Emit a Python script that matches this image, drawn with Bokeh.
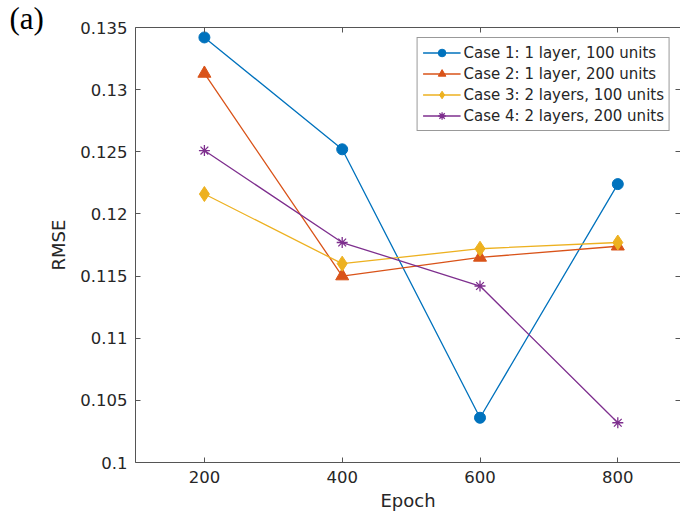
from bokeh.plotting import figure
from bokeh.models import Range1d, FixedTicker, LinearAxis, Label, Legend
from bokeh.embed import file_html
from bokeh.resources import INLINE

epochs = [200, 400, 600, 800]
case1 = [0.1342, 0.1252, 0.1036, 0.1224]
case2 = [0.1313, 0.1150, 0.1165, 0.1174]
case3 = [0.1216, 0.1160, 0.1172, 0.1177]
case4 = [0.1251, 0.1177, 0.1142, 0.1032]
labels = ["Case 1: 1 layer, 100 units", "Case 2: 1 layer, 200 units",
          "Case 3: 2 layers, 100 units", "Case 4: 2 layers, 200 units"]
colors = ["#0072BD", "#D95319", "#EDB120", "#7E2F8E"]
markers = ["circle", "triangle", "diamond", "asterisk"]
msizes = [11, 13, 15, 11]
x_ticks = [200, 400, 600, 800]
y_ticks = [0.1, 0.105, 0.11, 0.115, 0.12, 0.125, 0.13, 0.135]
y_tick_labels = ["0.1", "0.105", "0.11", "0.115", "0.12", "0.125", "0.13", "0.135"]

FONT = "DejaVu Sans"
AX = "#555555"
TXT = "#262626"

p = figure(width=680, height=517, output_backend="svg", toolbar_location=None,
           x_range=Range1d(100, 891), y_range=Range1d(0.1, 0.135),
           min_border_left=135, min_border_right=0, min_border_top=27,
           min_border_bottom=55, x_axis_label="Epoch", y_axis_label="RMSE")
p.outline_line_color = None
p.grid.visible = False
p.background_fill_color = "white"
p.border_fill_color = "white"

for ax in [p.xaxis[0], p.yaxis[0]]:
    ax.major_tick_in = 5
    ax.major_tick_out = 0
    ax.minor_tick_line_color = None
    ax.axis_line_color = AX
    ax.major_tick_line_color = AX
    ax.major_label_text_font = FONT
    ax.major_label_text_font_size = "16.5px"
    ax.major_label_text_color = TXT
    ax.axis_label_text_font = FONT
    ax.axis_label_text_font_size = "18px"
    ax.axis_label_text_font_style = "normal"
    ax.axis_label_text_color = TXT

p.xaxis[0].ticker = FixedTicker(ticks=x_ticks)
p.yaxis[0].ticker = FixedTicker(ticks=y_ticks)
p.yaxis[0].major_label_overrides = {t: l for t, l in zip(y_ticks, y_tick_labels)}
p.xaxis[0].major_label_standoff = 8
p.xaxis[0].axis_label_standoff = 4
p.yaxis[0].major_label_standoff = 8
p.yaxis[0].axis_label_standoff = 8

top = LinearAxis(ticker=FixedTicker(ticks=x_ticks), major_tick_in=5, major_tick_out=0,
                 minor_tick_line_color=None, axis_line_color=AX, major_tick_line_color=AX,
                 major_label_overrides={t: "" for t in x_ticks}, major_label_standoff=0)
p.add_layout(top, "above")
right = LinearAxis(ticker=FixedTicker(ticks=y_ticks), major_tick_in=5, major_tick_out=0,
                   minor_tick_line_color=None, axis_line_color=None, major_tick_line_color=AX,
                   major_label_overrides={t: "" for t in y_ticks}, major_label_standoff=0)
p.add_layout(right, "right")

items = []
for ys, lab, c, m, s in zip([case1, case2, case3, case4], labels, colors, markers, msizes):
    r1 = p.line(epochs, ys, line_color=c, line_width=1.3)
    if m == "asterisk":
        r2 = p.scatter(epochs, ys, marker=m, size=s, line_color=c, line_width=1.3)
    else:
        r2 = p.scatter(epochs, ys, marker=m, size=s, fill_color=c, line_color=c)
    items.append((lab, [r1, r2]))

legend = Legend(items=items, location="top_right", margin=10, padding=5, spacing=2,
                glyph_width=38, glyph_height=19, label_standoff=3,
                label_text_font=FONT, label_text_font_size="15px", label_text_color=TXT,
                border_line_color="#333333", border_line_width=1,
                background_fill_color="white", background_fill_alpha=1.0)
p.add_layout(legend, "center")

p.add_layout(Label(x=-2, y=427, x_units="screen", y_units="screen", text="(a)",
                   text_font="Liberation Serif", text_font_size="31px", text_color="black"),
             "left")

open("out.html", "w").write(file_html(p, INLINE))
